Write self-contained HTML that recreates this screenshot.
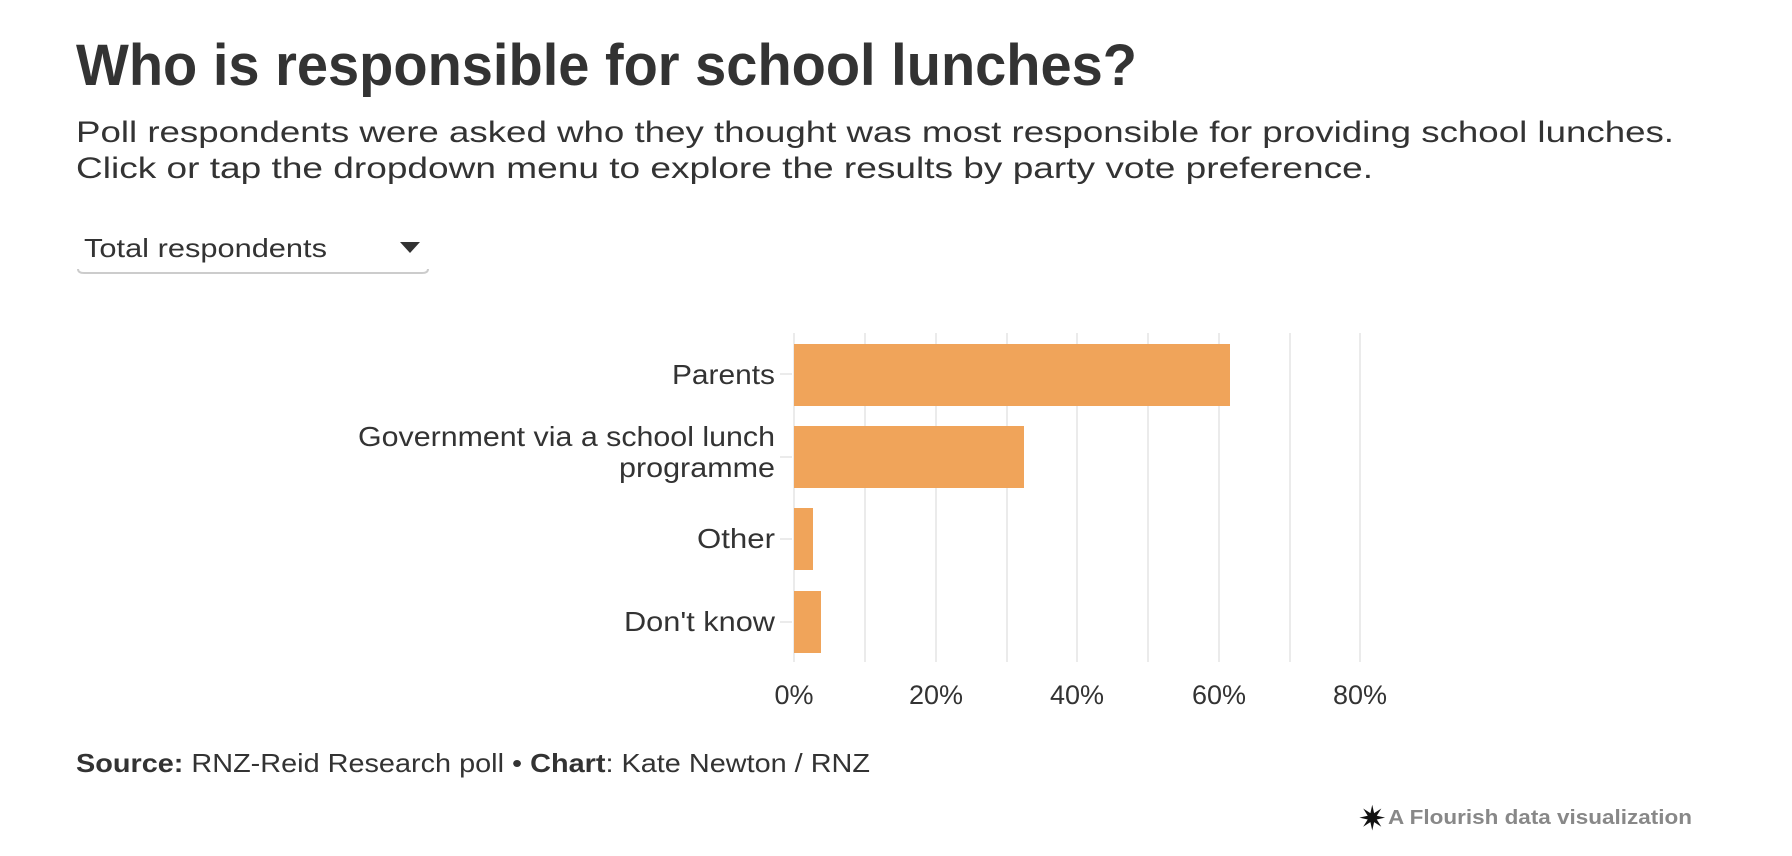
<!DOCTYPE html>
<html><head><meta charset="utf-8"><style>
html,body{margin:0;padding:0;background:#fff;}
svg{display:block;}
text{font-family:"Liberation Sans",sans-serif;fill:#333;}
</style></head><body>
<svg width="1792" height="856" viewBox="0 0 1792 856" xmlns="http://www.w3.org/2000/svg">
<text x="76" y="85" font-size="58" font-weight="bold" textLength="1061" lengthAdjust="spacingAndGlyphs">Who is responsible for school lunches?</text>
<text x="76" y="142" font-size="30" textLength="1598" lengthAdjust="spacingAndGlyphs">Poll respondents were asked who they thought was most responsible for providing school lunches.</text>
<text x="76" y="178" font-size="30" textLength="1297" lengthAdjust="spacingAndGlyphs">Click or tap the dropdown menu to explore the results by party vote preference.</text>
<text x="84" y="257" font-size="26" textLength="243" lengthAdjust="spacingAndGlyphs">Total respondents</text>
<polygon points="400,242 420,242 410,253" fill="#333"/>
<path d="M78,269 Q78,273 84,273 L422,273 Q428,273 428,269" fill="none" stroke="#ccc" stroke-width="2"/>
<g transform="translate(-3,-2)">
<g stroke="#ebebeb" stroke-width="2">
<line x1="868" y1="335" x2="868" y2="664"/><line x1="939" y1="335" x2="939" y2="664"/>
<line x1="1010" y1="335" x2="1010" y2="664"/><line x1="1080" y1="335" x2="1080" y2="664"/>
<line x1="1151" y1="335" x2="1151" y2="664"/><line x1="1222" y1="335" x2="1222" y2="664"/>
<line x1="1293" y1="335" x2="1293" y2="664"/><line x1="1363" y1="335" x2="1363" y2="664"/>
<line x1="797" y1="335" x2="797" y2="664"/>
<line x1="783" y1="376" x2="795" y2="376"/><line x1="783" y1="459" x2="795" y2="459"/>
<line x1="783" y1="541" x2="795" y2="541"/><line x1="783" y1="624" x2="795" y2="624"/>
</g>
<g fill="#f0a45a">
<rect x="797" y="346" width="436" height="62"/>
<rect x="797" y="428" width="230" height="62"/>
<rect x="797" y="510" width="19" height="62"/>
<rect x="797" y="593" width="27" height="62"/>
</g>
<g font-size="28" text-anchor="end">
<text x="778" y="386" textLength="103" lengthAdjust="spacingAndGlyphs">Parents</text>
<text x="778" y="448" textLength="417" lengthAdjust="spacingAndGlyphs">Government via a school lunch</text>
<text x="778" y="479" textLength="156" lengthAdjust="spacingAndGlyphs">programme</text>
<text x="778" y="550" textLength="78" lengthAdjust="spacingAndGlyphs">Other</text>
<text x="778" y="633" textLength="151" lengthAdjust="spacingAndGlyphs">Don't know</text>
</g>
<g font-size="27" text-anchor="middle">
<text x="797" y="706">0%</text><text x="939" y="706">20%</text>
<text x="1080" y="706">40%</text><text x="1222" y="706">60%</text><text x="1363" y="706">80%</text>
</g>
</g>
<text x="76" y="772" font-size="26" textLength="794" lengthAdjust="spacingAndGlyphs"><tspan font-weight="bold">Source:</tspan> RNZ-Reid Research poll • <tspan font-weight="bold">Chart</tspan>: Kate Newton / RNZ</text>
<text x="1358" y="830" font-size="34" style="fill:#111">✷</text>
<text x="1388" y="824" font-size="20" font-weight="bold" style="fill:#888" textLength="304" lengthAdjust="spacingAndGlyphs">A Flourish data visualization</text>
</svg>
</body></html>
